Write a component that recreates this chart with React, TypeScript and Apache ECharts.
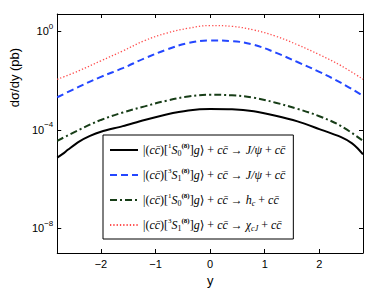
import React, { useEffect, useRef } from "react";
import * as echarts from "echarts";

// rapidity points
const xBlack = [-2.8, -2.7, -2.6, -2.4, -2.2, -2.0, -1.6, -1.2, -0.8, -0.4, 0, 0.4, 0.8, 1.2, 1.6, 2.0, 2.4, 2.6, 2.7, 2.8];
const xOther = [-2.8, -2.4, -2.0, -1.6, -1.2, -0.8, -0.4, 0, 0.4, 0.8, 1.2, 1.6, 2.0, 2.4, 2.8];

// dσ/dy (pb)
const blackVals = [7.41e-6, 1.05e-5, 1.58e-5, 3.31e-5, 5.62e-5, 8.32e-5, 1.41e-4, 2.51e-4, 4.17e-4, 6.03e-4, 6.92e-4, 6.76e-4, 5.62e-4, 3.72e-4, 2.19e-4, 1.07e-4, 5.01e-5, 2.82e-5, 1.78e-5, 1.0e-5];
const blueVals = [2.09e-3, 5.62e-3, 1.41e-2, 3.16e-2, 7.94e-2, 0.178, 0.331, 0.422, 0.398, 0.282, 0.135, 5.62e-2, 2.24e-2, 7.94e-3, 2.4e-3];
const greenVals = [3.55e-5, 1.0e-4, 2.51e-4, 5.01e-4, 8.91e-4, 1.51e-3, 2.24e-3, 2.63e-3, 2.51e-3, 2.0e-3, 1.26e-3, 7.08e-4, 3.55e-4, 1.41e-4, 3.55e-5];
const redVals = [1.12e-2, 2.51e-2, 6.31e-2, 0.158, 0.417, 0.832, 1.32, 1.7, 1.58, 1.12, 0.631, 0.282, 0.112, 3.98e-2, 1.12e-2];

const xTicks = [-2, -1, 0, 1, 2];
const yTicks = [1e-8, 1e-4, 1];

const seriesNames = [
  "|(cc̄)[1S0(8)]g⟩ + cc̄ → J/ψ + cc̄",
  "|(cc̄)[3S1(8)]g⟩ + cc̄ → J/ψ + cc̄ ",
  "|(cc̄)[1S0(8)]g⟩ + cc̄ → hc + cc̄",
  "|(cc̄)[3S1(8)]g⟩ + cc̄ → χcJ + cc̄",
];
const legendRich = [
  "{r||(}{i|cc̄}{r|)[}{p|1}{i|S}{b|0}{q|(8)}{r|]}{i|g}{r|⟩ + }{i|cc̄}{r| → }{i|J/ψ}{r| + }{i|cc̄}",
  "{r||(}{i|cc̄}{r|)[}{p|3}{i|S}{b|1}{q|(8)}{r|]}{i|g}{r|⟩ + }{i|cc̄}{r| → }{i|J/ψ}{r| + }{i|cc̄}",
  "{r||(}{i|cc̄}{r|)[}{p|1}{i|S}{b|0}{q|(8)}{r|]}{i|g}{r|⟩ + }{i|cc̄}{r| → }{i|h}{c|c}{r| + }{i|cc̄}",
  "{r||(}{i|cc̄}{r|)[}{p|3}{i|S}{b|1}{q|(8)}{r|]}{i|g}{r|⟩ + }{i|cc̄}{r| → }{i|χ}{c|cJ}{r| + }{i|cc̄}",
];

const SANS = "Liberation Sans, Arial, sans-serif";
const SERIF = "Liberation Serif, DejaVu Serif, serif";

export default function App() {
  const ref = useRef<HTMLDivElement>(null);
  useEffect(() => {
    if (!ref.current) return;
    const chart = echarts.init(ref.current, undefined, { renderer: "svg" });
    const sup = (v: number) => {
      const e = Math.round(Math.log10(v));
      return `{b|10}{s|${e < 0 ? "−" + -e : e}}`;
    };
    const baseX = {
      type: "value" as const,
      min: -2.8,
      max: 2.8,
      splitLine: { show: false },
      axisLine: { show: true, onZero: false, lineStyle: { color: "#000", width: 1 } },
      axisTick: { show: true, inside: true, length: 4, customValues: xTicks, lineStyle: { color: "#000" } },
    };
    const baseY = {
      type: "log" as const,
      logBase: 10,
      min: 1e-9,
      max: 5,
      splitLine: { show: false },
      axisLine: { show: true, onZero: false, lineStyle: { color: "#000", width: 1 } },
      axisTick: { show: true, inside: true, length: 4, customValues: yTicks, lineStyle: { color: "#000" } },
    };
    const mk = (xs: number[], vs: number[]) => vs.map((v, i) => [xs[i], v]);
    chart.setOption({
      animation: false,
      backgroundColor: "#fff",
      grid: { left: 36, top: 14, right: 11, bottom: 41 },
      xAxis: [
        {
          ...baseX,
          position: "bottom",
          name: "y",
          nameLocation: "middle",
          nameGap: 16,
          nameTextStyle: { fontFamily: SANS, fontSize: 13, color: "#000" },
          axisLabel: {
            customValues: xTicks,
            margin: 5,
            fontFamily: SANS,
            fontSize: 11,
            color: "#000",
            formatter: (v: number) => (v < 0 ? "−" + -v : String(v)),
          },
        },
        { ...baseX, position: "top", axisLabel: { show: false } },
      ],
      yAxis: [
        {
          ...baseY,
          position: "left",
          name: "dσ/dy (pb)",
          nameLocation: "middle",
          nameGap: 16,
          nameTextStyle: { fontFamily: SANS, fontSize: 13, color: "#000", padding: [0, 0, 0, 112] },
          axisLabel: {
            customValues: yTicks,
            margin: 4,
            color: "#000",
            formatter: sup,
            rich: {
              b: { fontFamily: SANS, fontSize: 11, color: "#000" },
              s: { fontFamily: SANS, fontSize: 8, color: "#000", padding: [0, 0, 10, 0] },
            },
          },
        },
        { ...baseY, position: "right", axisLabel: { show: false } },
      ],
      legend: {
        orient: "vertical",
        left: 103,
        top: 135,
        padding: [7, 8, 7, 6],
        itemGap: 10,
        itemWidth: 28,
        itemHeight: 14,
        itemStyle: { opacity: 0 },
        backgroundColor: "#fff",
        borderColor: "#000",
        borderWidth: 1,
        borderRadius: 0,
        data: seriesNames,
        formatter: (name: string) => legendRich[seriesNames.indexOf(name)],
        textStyle: {
          color: "#000",
          fontFamily: SERIF,
          fontSize: 12,
          rich: {
            r: { fontFamily: SERIF, fontSize: 12, color: "#000" },
            i: { fontFamily: SERIF, fontSize: 12, fontStyle: "italic", color: "#000" },
            p: { fontFamily: SERIF, fontSize: 7, color: "#000", padding: [0, 0, 9, 0] },
            q: { fontFamily: SERIF, fontSize: 7, fontWeight: "bold", color: "#000", padding: [0, 0, 9, 0] },
            b: { fontFamily: SERIF, fontSize: 8, color: "#000", padding: [6, 0, 0, 0] },
            c: { fontFamily: SERIF, fontSize: 8, fontStyle: "italic", color: "#000", padding: [6, 0, 0, 0] },
          },
        },
      },
      series: [
        {
          name: seriesNames[0],
          type: "line",
          data: mk(xBlack, blackVals),
          symbol: "none",
          smooth: 0.3,
          lineStyle: { color: "#000", width: 2, type: "solid" },
          itemStyle: { color: "#000" },
        },
        {
          name: seriesNames[1],
          type: "line",
          data: mk(xOther, blueVals),
          symbol: "none",
          smooth: 0.4,
          lineStyle: { color: "#2447ff", width: 2, type: [7, 4] },
          itemStyle: { color: "#2447ff" },
        },
        {
          name: seriesNames[2],
          type: "line",
          data: mk(xOther, greenVals),
          symbol: "none",
          smooth: 0.4,
          lineStyle: { color: "#173d17", width: 2, type: [7, 3, 2, 3] },
          itemStyle: { color: "#173d17" },
        },
        {
          name: seriesNames[3],
          type: "line",
          data: mk(xOther, redVals),
          symbol: "none",
          smooth: 0.4,
          lineStyle: { color: "#ff4d4d", width: 1.3, type: [1.3, 2] },
          itemStyle: { color: "#ff4d4d" },
        },
      ],
    });
    return () => chart.dispose();
  }, []);
  return <div ref={ref} style={{ width: 374, height: 294, position: "absolute", left: 0, top: 0 }} />;
}
